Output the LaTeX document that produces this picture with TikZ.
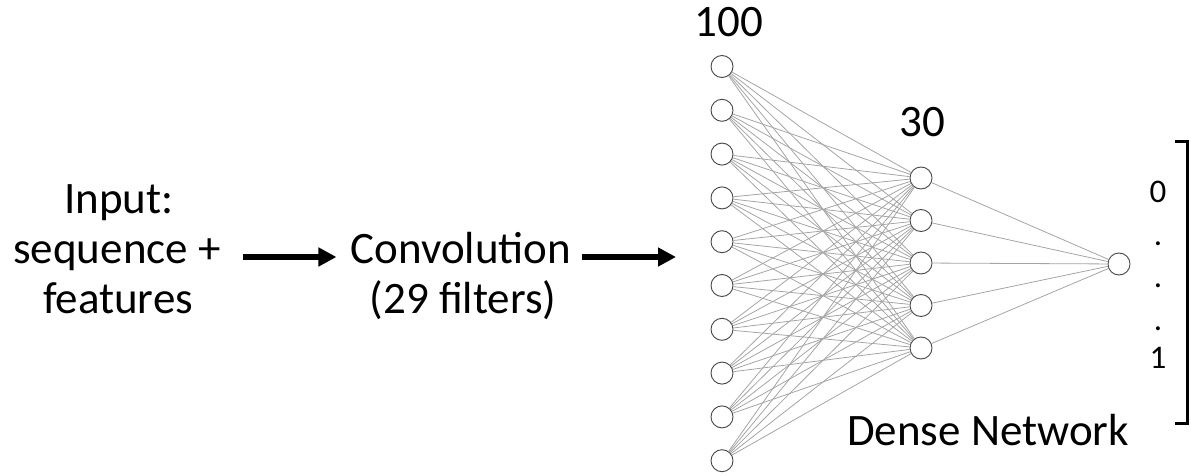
\documentclass[tikz,border=0pt]{standalone}
\usepackage{fontspec}
\setmainfont{Carlito}
\usetikzlibrary{arrows.meta}
\definecolor{edgegray}{RGB}{165,165,165}
\definecolor{ringgray}{RGB}{70,70,70}
\tikzset{
  bigtext/.style={font=\fontsize{45}{50}\selectfont, inner sep=0pt},
  rangetext/.style={font=\fontsize{33}{36}\selectfont, inner sep=0pt, anchor=base},
  neuron/.style={circle, draw=ringgray, line width=0.9pt, fill=white, minimum size=22pt, inner sep=0pt},
  link/.style={draw=edgegray, line width=0.8pt},
  flow/.style={line width=5.5pt, -{Triangle[length=18pt,width=18pt]}},
}
\begin{document}
\begin{tikzpicture}[x=1pt, y=-1pt]
\useasboundingbox (0,0) rectangle (1191,476);

% input description and convolution stage
\node[bigtext, anchor=base] (inp) at (119,213) {Input:};
\node[bigtext, anchor=base] (seq) at (117,263) {sequence +};
\node[bigtext, anchor=base] (feat) at (118,313) {features};
\node[bigtext, anchor=base] (conv) at (461,263) {Convolution};
\node[bigtext, anchor=base] (filt) at (463,313) {(29 filters)};
\coordinate (netin) at (676,257);

\draw[flow] ([xshift=22pt]seq.base east |- netin) -- ([xshift=-14pt]conv.base west |- netin);
\draw[flow] ([xshift=10pt]conv.base east |- netin) -- (netin);

% dense layers
\foreach \i in {1,...,10}
  \node[neuron] (a\i) at (722,{66.5+43.8*(\i-1)}) {};
\foreach \j in {1,...,5}
  \node[neuron] (b\j) at (921,{178+42.5*(\j-1)}) {};
\node[neuron] (out) at (1119,264) {};

\foreach \i in {1,...,10}
  \foreach \j in {1,...,5}
    \draw[link] (a\i) -- (b\j);
\foreach \j in {1,...,5}
  \draw[link] (b\j) -- (out);

% layer sizes and caption
\node[bigtext, anchor=base] (n100) at (729,37) {100};
\node[bigtext, anchor=base] (n30) at (922,137) {30};
\node[bigtext, anchor=base] (dense) at (988,445) {Dense Network};

% output range
\node[rangetext] (lo) at (1158,202) {0};
\node[rangetext] (d1) at (1158,245) {.};
\node[rangetext] (d2) at (1158,287) {.};
\node[rangetext] (d3) at (1158,330) {.};
\node[rangetext] (hi) at (1158,368) {1};
\coordinate (bt) at (1175,142);
\coordinate (bb) at (1175,423);
\draw[line width=3pt] (bt) -- ++(12,0) |- (bb);
\end{tikzpicture}
\end{document}
